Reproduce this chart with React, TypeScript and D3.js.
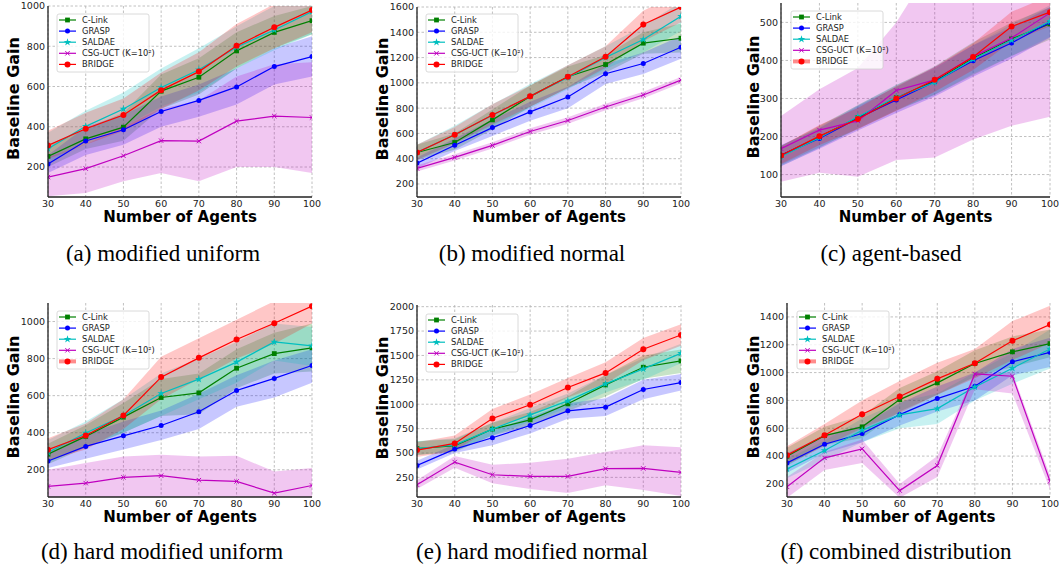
import React from 'react'
import * as d3 from 'd3'

const agents = [30, 40, 50, 60, 70, 80, 90, 100]
const methods = ['C-Link', 'GRASP', 'SALDAE', 'CSG-UCT (K=10²)', 'BRIDGE']
const methodColors = ['#008000', '#0000ff', '#00bfbf', '#bf00bf', '#ff0000']
const methodMarkers = ['square', 'circle', 'star', 'x', 'bigcircle']

// rows follow the order of `methods`
// (a) modified uniform
const uniformMean = [
  [253, 340, 398, 577, 646, 777, 869, 927],
  [215, 329, 385, 476, 531, 598, 699, 749],
  [291, 402, 488, 595, 683, 795, 881, 972],
  [150, 192, 256, 331, 329, 428, 453, 446],
  [307, 390, 458, 582, 674, 802, 894, 980],
]
const uniformLow = [
  [200, 290, 330, 490, 560, 690, 790, 860],
  [170, 260, 310, 400, 450, 510, 610, 650],
  [220, 330, 400, 500, 570, 690, 780, 860],
  [55, 71, 129, 170, 129, 200, 200, 170],
  [240, 310, 380, 490, 580, 700, 790, 870],
]
const uniformHigh = [
  [310, 390, 470, 660, 740, 870, 950, 1000],
  [260, 400, 460, 550, 610, 690, 790, 850],
  [370, 480, 570, 690, 790, 900, 1000, 1010],
  [250, 310, 400, 490, 530, 650, 710, 720],
  [380, 470, 540, 670, 770, 910, 1010, 1030],
]
const uniformTicks = [200, 400, 600, 800, 1000]

// (b) modified normal
const normalMean = [
  [449, 528, 707, 893, 1048, 1145, 1314, 1353],
  [365, 507, 646, 770, 888, 1072, 1153, 1282],
  [449, 589, 744, 893, 1043, 1201, 1343, 1526],
  [323, 410, 505, 615, 702, 809, 904, 1022],
  [449, 589, 746, 893, 1048, 1206, 1461, 1600],
]
const normalLow = [
  [390, 470, 630, 810, 960, 1080, 1230, 1240],
  [320, 460, 580, 700, 800, 990, 1070, 1190],
  [390, 520, 660, 800, 950, 1110, 1240, 1410],
  [298, 385, 480, 590, 677, 784, 879, 997],
  [390, 520, 670, 810, 960, 1120, 1330, 1480],
]
const normalHigh = [
  [510, 600, 790, 980, 1130, 1220, 1400, 1470],
  [410, 560, 710, 850, 970, 1150, 1240, 1370],
  [510, 660, 830, 990, 1140, 1290, 1450, 1640],
  [348, 435, 530, 640, 727, 834, 929, 1047],
  [510, 650, 830, 980, 1140, 1290, 1570, 1720],
]
const normalTicks = [200, 400, 600, 800, 1000, 1200, 1400, 1600]

// (c) agent-based
const agentMean = [
  [150, 199, 250, 302, 346, 406, 457, 496],
  [151, 195, 248, 296, 344, 399, 446, 500],
  [147, 197, 252, 303, 342, 403, 453, 503],
  [168, 217, 241, 321, 349, 410, 459, 525],
  [150, 201, 246, 300, 349, 409, 489, 527],
]
const agentLow = [
  [125, 172, 220, 268, 310, 362, 412, 455],
  [122, 168, 216, 262, 305, 357, 405, 460],
  [122, 170, 222, 270, 310, 365, 412, 462],
  [81, 105, 94, 138, 145, 192, 228, 252],
  [128, 178, 220, 268, 318, 375, 450, 490],
]
const agentHigh = [
  [175, 228, 282, 335, 385, 448, 500, 540],
  [178, 222, 280, 330, 383, 440, 488, 540],
  [175, 225, 283, 336, 378, 440, 495, 545],
  [254, 324, 380, 500, 660, 700, 720, 800],
  [175, 230, 275, 332, 382, 445, 528, 570],
]
const agentTicks = [100, 200, 300, 400, 500]

// (d) hard modified uniform
const hardUniformMean = [
  [284, 380, 484, 590, 615, 748, 827, 858],
  [247, 326, 383, 439, 513, 628, 693, 763],
  [293, 398, 491, 612, 689, 781, 890, 869],
  [110, 128, 159, 168, 144, 137, 74, 115],
  [308, 385, 493, 700, 804, 903, 991, 1083],
]
const hardUniformLow = [
  [230, 320, 400, 490, 500, 640, 720, 730],
  [210, 260, 310, 360, 420, 540, 590, 670],
  [240, 330, 400, 490, 580, 670, 790, 760],
  [20, 20, 46, 50, 16, 0, -43, 21],
  [250, 310, 420, 580, 690, 800, 880, 990],
]
const hardUniformHigh = [
  [340, 440, 560, 690, 720, 850, 940, 990],
  [290, 390, 460, 520, 610, 710, 790, 850],
  [360, 460, 580, 720, 800, 890, 990, 970],
  [200, 236, 272, 281, 272, 275, 191, 209],
  [370, 450, 580, 810, 910, 1010, 1110, 1180],
]
const hardUniformTicks = [200, 400, 600, 800, 1000]

// (e) hard modified normal
const hardNormalMean = [
  [545, 574, 745, 840, 1004, 1198, 1379, 1444],
  [373, 540, 656, 782, 932, 970, 1151, 1222],
  [545, 584, 745, 891, 1034, 1208, 1362, 1522],
  [175, 407, 277, 260, 260, 339, 342, 301],
  [530, 598, 854, 994, 1171, 1321, 1563, 1710],
]
const hardNormalLow = [
  [480, 510, 680, 780, 930, 1080, 1260, 1320],
  [330, 500, 580, 700, 850, 880, 1050, 1140],
  [480, 520, 680, 820, 960, 1120, 1250, 1420],
  [130, 350, 190, 130, 90, 170, 120, 60],
  [460, 520, 760, 880, 1070, 1210, 1450, 1600],
]
const hardNormalHigh = [
  [620, 640, 810, 920, 1080, 1300, 1500, 1560],
  [420, 590, 730, 870, 1010, 1060, 1250, 1310],
  [620, 650, 810, 960, 1110, 1300, 1470, 1620],
  [220, 470, 380, 400, 440, 510, 580, 560],
  [610, 680, 950, 1100, 1270, 1430, 1680, 1820],
]
const hardNormalTicks = [250, 500, 750, 1000, 1250, 1500, 1750, 2000]

// (f) combined distribution
const combinedMean = [
  [399, 547, 610, 806, 926, 1065, 1149, 1208],
  [351, 485, 562, 698, 813, 902, 1077, 1146],
  [308, 440, 586, 696, 741, 897, 1031, 1170],
  [179, 387, 452, 152, 332, 990, 974, 219],
  [406, 550, 701, 828, 955, 1067, 1228, 1345],
]
const combinedLow = [
  [330, 480, 530, 720, 840, 970, 1040, 1110],
  [280, 420, 500, 620, 720, 800, 980, 1040],
  [240, 370, 500, 600, 630, 800, 920, 1030],
  [100, 300, 350, 100, 250, 880, 850, 160],
  [340, 470, 600, 710, 840, 960, 1090, 1210],
]
const combinedHigh = [
  [460, 610, 690, 890, 1010, 1160, 1260, 1310],
  [420, 550, 620, 780, 900, 1000, 1170, 1250],
  [380, 510, 670, 790, 850, 1000, 1140, 1310],
  [250, 430, 520, 200, 400, 1000, 1000, 260],
  [470, 630, 800, 940, 1070, 1170, 1370, 1480],
]
const combinedTicks = [200, 400, 600, 800, 1000, 1200, 1400]

const panels = [
  { id: 'a', caption: '(a) modified uniform', mean: uniformMean, low: uniformLow, high: uniformHigh, ticks: uniformTicks,
    domain: [51, 1000], box: [48, 312, 6, 197], titleX: 13, captionX: 163, captionY: 261, legend: [57, 14], thick: false },
  { id: 'b', caption: '(b) modified normal', mean: normalMean, low: normalLow, high: normalHigh, ticks: normalTicks,
    domain: [97, 1600], box: [417, 681, 7, 197], titleX: 382, captionX: 532, captionY: 261, legend: [426, 14], thick: false },
  { id: 'c', caption: '(c) agent-based', mean: agentMean, low: agentLow, high: agentHigh, ticks: agentTicks,
    domain: [41, 551], box: [781, 1050, 3, 197], titleX: 753, captionX: 891, captionY: 261, legend: [791, 11], thick: true },
  { id: 'd', caption: '(d) hard modified uniform', mean: hardUniformMean, low: hardUniformLow, high: hardUniformHigh, ticks: hardUniformTicks,
    domain: [53, 1100], box: [48, 312, 303, 497], titleX: 13, captionX: 162, captionY: 559, legend: [57, 311], thick: true },
  { id: 'e', caption: '(e) hard modified normal', mean: hardNormalMean, low: hardNormalLow, high: hardNormalHigh, ticks: hardNormalTicks,
    domain: [49, 2017], box: [417, 681, 305, 497], titleX: 382, captionX: 532, captionY: 559, legend: [426, 314], thick: false },
  { id: 'f', caption: '(f) combined distribution', mean: combinedMean, low: combinedLow, high: combinedHigh, ticks: combinedTicks,
    domain: [106, 1500], box: [787, 1050, 303, 497], titleX: 753, captionX: 896, captionY: 559, legend: [797, 311], thick: true },
]

const sans = 'DejaVu Sans, sans-serif'

function Marker({ kind, x, y, color }: any) {
  if (kind === 'square') return <rect x={x - 2.4} y={y - 2.4} width={4.8} height={4.8} fill={color} />
  if (kind === 'circle') return <circle cx={x} cy={y} r={2.5} fill={color} />
  if (kind === 'bigcircle') return <circle cx={x} cy={y} r={3.0} fill={color} />
  if (kind === 'star') {
    const p = d3.symbol().type(d3.symbolStar).size(18)()
    return <path d={p || ''} transform={`translate(${x},${y})`} fill={color} />
  }
  return (
    <path d={`M${x - 2.2},${y - 2.2}L${x + 2.2},${y + 2.2}M${x - 2.2},${y + 2.2}L${x + 2.2},${y - 2.2}`}
      stroke={color} strokeWidth={1} fill="none" />
  )
}

function Panel({ p }: any) {
  const [left, right, top, bottom] = p.box
  const x = d3.scaleLinear().domain([30, 100]).range([left, right])
  const y = d3.scaleLinear().domain(p.domain).range([bottom, top])
  const clipId = `clip-${p.id}`

  const line = d3.line<number>().x((_, i) => x(agents[i])).y((d) => y(d))
  const band = (lo: number[], hi: number[]) =>
    d3.area<number>().x((_, i) => x(agents[i])).y0((_, i) => y(lo[i])).y1((_, i) => y(hi[i]))(agents) || ''

  const [lx, ly] = p.legend

  return (
    <g>
      <defs>
        <clipPath id={clipId}>
          <rect x={left} y={top} width={right - left} height={bottom - top} />
        </clipPath>
      </defs>
      {/* grid */}
      <g stroke="#b0b0b0" strokeWidth={0.8} strokeDasharray="2.5,2">
        {agents.map((a) => (
          <line key={a} x1={x(a)} x2={x(a)} y1={top} y2={bottom} />
        ))}
        {p.ticks.map((t: number) => (
          <line key={t} x1={left} x2={right} y1={y(t)} y2={y(t)} />
        ))}
      </g>
      <g clipPath={`url(#${clipId})`}>
        {methods.map((m, k) => (
          <path key={m} d={band(p.low[k], p.high[k])} fill={methodColors[k]} fillOpacity={0.22} stroke="none" />
        ))}
        {methods.map((m, k) => (
          <g key={m}>
            <path d={line(p.mean[k]) || ''} fill="none" stroke={methodColors[k]} strokeWidth={1.2} />
            {p.mean[k].map((v: number, i: number) => (
              <Marker key={i} kind={methodMarkers[k]} x={x(agents[i])} y={y(v)} color={methodColors[k]} />
            ))}
          </g>
        ))}
      </g>
      {/* spines */}
      <line x1={left} x2={left} y1={top} y2={bottom} stroke="#222" strokeWidth={1.3} />
      <line x1={left} x2={right} y1={bottom} y2={bottom} stroke="#222" strokeWidth={1.3} />
      {/* tick labels */}
      <g fontFamily={sans} fontSize={9.5} fill="#222">
        {agents.map((a) => (
          <text key={a} x={x(a)} y={bottom + 9.5} textAnchor="middle">{a}</text>
        ))}
        {p.ticks.map((t: number) => (
          <text key={t} x={left - 3} y={y(t) + 3.4} textAnchor="end">{t}</text>
        ))}
      </g>
      <text x={(left + right) / 2} y={bottom + 25} textAnchor="middle" fontFamily={sans} fontWeight="bold" fontSize={15} fill="#000">
        Number of Agents
      </text>
      <text transform={`translate(${p.titleX + 5.5},${(top + bottom) / 2 - 3}) rotate(-90)`} textAnchor="middle"
        fontFamily={sans} fontWeight="bold" fontSize={16} fill="#000">
        Baseline Gain
      </text>
      {/* legend */}
      <g>
        <rect x={lx} y={ly} width={92} height={58} rx={2} fill="#fff" fillOpacity={0.8} stroke="#d0d0d0" strokeWidth={0.8} />
        {methods.map((m, k) => {
          const ry = ly + 6 + k * 11.1
          const isThick = p.thick && k === 4
          return (
            <g key={m}>
              <line x1={lx + 2} x2={lx + 19} y1={ry} y2={ry} stroke={methodColors[k]}
                strokeWidth={isThick ? 4 : 1.2} strokeOpacity={isThick ? 0.45 : 1} />
              <Marker kind={methodMarkers[k]} x={lx + 10.5} y={ry} color={methodColors[k]} />
              <text x={lx + 25} y={ry + 3} fontFamily={sans} fontSize={8.3} fill="#222">{m}</text>
            </g>
          )
        })}
      </g>
      <text x={p.captionX} y={p.captionY} textAnchor="middle" fontFamily="Liberation Serif, serif" fontSize={23} fill="#000">
        {p.caption}
      </text>
    </g>
  )
}

export default function App() {
  return (
    <svg width={1060} height={567} style={{ position: 'absolute', left: 0, top: 0, background: '#fff' }}>
      {panels.map((p) => (
        <Panel key={p.id} p={p} />
      ))}
    </svg>
  )
}
